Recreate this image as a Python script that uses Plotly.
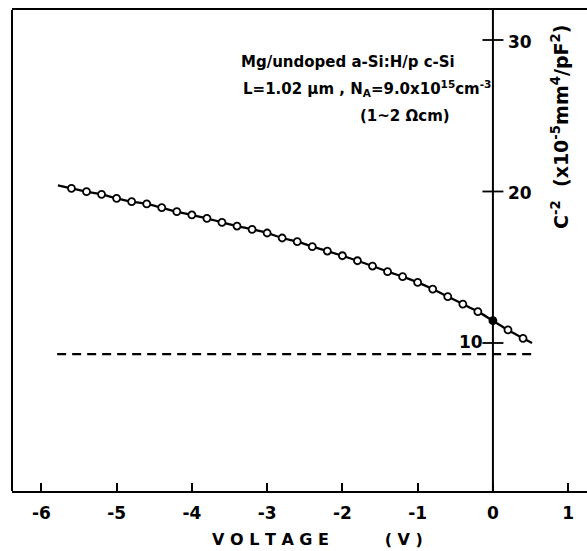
import plotly.graph_objects as go

# ---- data ----
voltage = [-5.6, -5.4, -5.2, -5.0, -4.8, -4.6, -4.4, -4.2, -4.0, -3.8, -3.6, -3.4,
           -3.2, -3.0, -2.8, -2.6, -2.4, -2.2, -2.0, -1.8, -1.6, -1.4, -1.2, -1.0,
           -0.8, -0.6, -0.4, -0.2, 0.0, 0.2, 0.4]
c_inv2 = [20.21, 19.99, 19.81, 19.55, 19.33, 19.18, 18.93, 18.67, 18.45, 18.23, 17.96, 17.72,
          17.50, 17.26, 16.93, 16.69, 16.36, 16.07, 15.76, 15.43, 15.08, 14.71, 14.38, 14.00,
          13.56, 13.06, 12.57, 12.07, 11.47, 10.86, 10.31]
fit_start = (-5.78, 20.40)
fit_end = (0.52, 10.00)
dashed_x = [-5.79, 0.52]
dashed_y = [9.27, 9.27]
x_ticks = [-6, -5, -4, -3, -2, -1, 0, 1]
y_ticks = [10, 20, 30]
y_tick_labels = ["10", "20", "30"]

W, H = 587, 551
ML, MR, MT, MB = 12, 0, 10, 60
PW, PH = W - ML - MR, H - MT - MB

def px(x):
    return (x - ML) / PW

def py(y):
    return (H - MB - y) / PH

FONT = "DejaVu Sans"
fig = go.Figure()

# fitted line
fx = [fit_start[0]] + voltage + [fit_end[0]]
fy = [fit_start[1]] + c_inv2 + [fit_end[1]]
fig.add_trace(go.Scatter(x=fx, y=fy, mode="lines", line=dict(color="black", width=2.3, shape="spline"),
                         hoverinfo="skip"))
# dashed
fig.add_trace(go.Scatter(x=dashed_x, y=dashed_y, mode="lines",
                         line=dict(color="black", width=2.2, dash="9px,6px")))
# points
fills = ["black" if v == 0.0 else "white" for v in voltage]
fig.add_trace(go.Scatter(x=voltage, y=c_inv2, mode="markers",
                         marker=dict(symbol="circle", size=7, color=fills,
                                     line=dict(color="black", width=1.8))))
# cross ticks on the vertical axis at V=0
fig.add_trace(go.Scatter(x=[0] * len(y_ticks), y=y_ticks, mode="markers",
                         marker=dict(symbol="line-ew", size=15,
                                     line=dict(color="black", width=1.8))))

# vertical axis at V=0 and left frame
fig.add_shape(type="line", x0=0, x1=0, xref="x", y0=0, y1=1, yref="paper",
              line=dict(color="black", width=2))
fig.add_shape(type="line", x0=0, x1=0, xref="paper", y0=0, y1=1, yref="paper",
              line=dict(color="black", width=2))

# y tick labels
for v, lab in zip(y_ticks, y_tick_labels):
    if v == 10:
        fig.add_annotation(x=0, y=v, xref="x", yref="y", text="<b>%s</b>" % lab, showarrow=False,
                           xanchor="right", yanchor="middle", xshift=-8, yshift=1,
                           font=dict(family=FONT, size=17, color="black"))
    else:
        fig.add_annotation(x=0, y=v, xref="x", yref="y", text="<b>%s</b>" % lab, showarrow=False,
                           xanchor="left", yanchor="middle", xshift=13, yshift=-2,
                           font=dict(family=FONT, size=17, color="black"))

tf = dict(family=FONT, size=15, color="black")
fig.add_annotation(x=px(457), y=py(62), xref="paper", yref="paper", xanchor="right", yanchor="middle",
                   text="<b>Mg/undoped a-Si:H/p c-Si</b>", showarrow=False, font=tf)
fig.add_annotation(x=px(493), y=py(88), xref="paper", yref="paper", xanchor="right", yanchor="middle",
                   text="<b>L=1.02 μm , N<sub>A</sub>=9.0x10<sup>15</sup>cm<sup>-3</sup></b>",
                   showarrow=False, font=tf)
fig.add_annotation(x=px(452), y=py(116), xref="paper", yref="paper", xanchor="right", yanchor="middle",
                   text="<b>(1~2 Ωcm)</b>", showarrow=False, font=tf)

# y title
fig.add_annotation(x=px(560), y=py(127), xref="paper", yref="paper", textangle=-90,
                   xanchor="center", yanchor="middle",
                   text="<b>C<sup>-2</sup>  (x10<sup>-5</sup>mm<sup>4</sup>/pF<sup>2</sup>)</b>",
                   showarrow=False, font=dict(family=FONT, size=19, color="black"))
# x title
fig.add_annotation(x=px(317), y=py(539), xref="paper", yref="paper",
                   xanchor="center", yanchor="middle",
                   text="<b>V O L T A G E          ( V )</b>", showarrow=False,
                   font=dict(family=FONT, size=16, color="black"))

fig.update_layout(
    width=W, height=H, margin=dict(l=ML, r=MR, t=MT, b=MB),
    paper_bgcolor="white", plot_bgcolor="white", showlegend=False,
    xaxis=dict(range=[-6.39, 1.25], tickvals=x_ticks, ticktext=["<b>%d</b>" % t for t in x_ticks],
               ticks="inside", ticklen=8, tickwidth=1.5, tickcolor="black",
               showline=True, linecolor="black", linewidth=2, mirror=True,
               showgrid=False, zeroline=False, ticklabelstandoff=6,
               tickfont=dict(family=FONT, size=17, color="black")),
    yaxis=dict(range=[0.23, 31.98], showticklabels=False, ticks="", showgrid=False,
               zeroline=False, showline=False),
)
fig.write_html("out.html")
